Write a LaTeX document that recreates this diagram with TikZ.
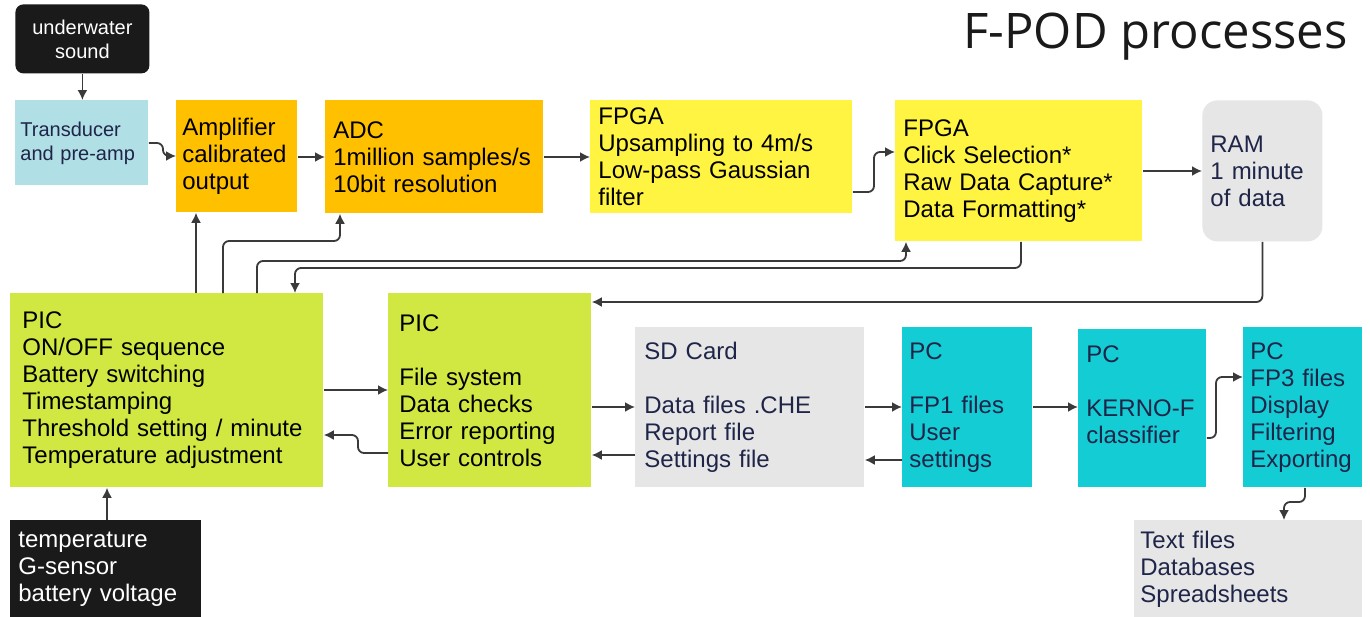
\documentclass[tikz,border=0pt]{standalone}
\usepackage{fontspec}
\setmainfont{Liberation Sans}
\newfontfamily\titlefont{Open Sans}
\usetikzlibrary{arrows.meta}

\definecolor{amber}{HTML}{FFC000}
\definecolor{lemon}{HTML}{FFF441}
\definecolor{lime}{HTML}{D0E841}
\definecolor{teal}{HTML}{14CCD4}
\definecolor{pale}{HTML}{B0DFE5}
\definecolor{paper}{HTML}{E6E6E6}
\definecolor{ink}{HTML}{1F2548}
\definecolor{coal}{HTML}{1A1A1A}
\definecolor{wire}{HTML}{3A3A3A}

\tikzset{
  stage/.style={rectangle, anchor=north west, align=left, inner xsep=4pt,
    font=\fontsize{12}{13.5}\selectfont},
  small/.style={font=\fontsize{10}{12}\selectfont},
  flow/.style={draw=wire, line width=0.9pt, rounded corners=3pt,
    -{Latex[length=5pt,width=5pt]}}
}

\begin{document}
\begin{tikzpicture}[x=0.5pt,y=-0.5pt]

  \path[fill=white,use as bounding box] (0,0) rectangle (1370,616);

  % Title
  \node[anchor=base east, inner sep=0pt, text=coal,
        font=\titlefont\fontsize{24.5}{29}\selectfont] (title) at (1348,48) {F-POD processes};

  % Top row
  \node[stage, small, align=center, fill=coal, text=white, rounded corners=4pt,
        text width=59pt, minimum height=34.5pt] (sound) at (15,4) {underwater\\sound};
  \node[stage, small, fill=pale, text=ink, inner xsep=2.5pt,
        text width=61.5pt, minimum height=42.5pt] (trans) at (15,100) {Transducer\\and pre-amp};
  \node[stage, fill=amber, inner xsep=3pt,
        text width=54.5pt, minimum height=56pt] (amp) at (176,100) {Amplifier\\calibrated\\output};
  \node[stage, fill=amber,
        text width=101pt, minimum height=56.5pt] (adc) at (325,100) {ADC\\1million samples/s\\10bit resolution};
  \node[stage, fill=lemon,
        text width=123pt, minimum height=56.5pt] (fpgaA) at (590,100) {FPGA\\Upsampling to 4m/s\\Low-pass Gaussian\\filter};
  \node[stage, fill=lemon,
        text width=115.5pt, minimum height=70.5pt] (fpgaB) at (895,100) {FPGA\\Click Selection*\\Raw Data Capture*\\Data Formatting*};
  \node[stage, fill=paper, text=ink, rounded corners=7.5pt,
        text width=52pt, minimum height=70.5pt] (ram) at (1202,100) {RAM\\1 minute\\of data};

  % Bottom row
  \node[stage, fill=lime, inner xsep=6pt,
        text width=144.5pt, minimum height=97pt] (picA) at (10,293) {PIC\\ON/OFF sequence\\Battery switching\\Timestamping\\Threshold setting / minute\\Temperature adjustment};
  \node[stage, fill=lime, inner xsep=5.5pt,
        text width=90.5pt, minimum height=97pt] (picB) at (388,293) {PIC\\[13.5pt]File system\\Data checks\\Error reporting\\User controls};
  \node[stage, fill=paper, text=ink, inner xsep=4.5pt,
        text width=105.5pt, minimum height=80pt] (sd) at (635,327) {SD Card\\[13.5pt]Data files .CHE\\Report file\\Settings file};
  \node[stage, fill=teal, text=ink, inner xsep=3.5pt,
        text width=58pt, minimum height=80pt] (pcA) at (902,327) {PC\\[13.5pt]FP1 files\\User\\settings};
  \node[stage, fill=teal, text=ink,
        text width=56pt, minimum height=79pt] (pcB) at (1078,329) {PC\\[13.5pt]KERNO-F\\classifier\\\mbox{}};
  \node[stage, fill=teal, text=ink, inner xsep=3.5pt,
        text width=52.5pt, minimum height=80pt] (pcC) at (1243,327) {PC\\FP3 files\\Display\\Filtering\\Exporting};
  \node[stage, fill=paper, text=ink, inner xsep=3pt,
        text width=108pt, minimum height=49pt] (export) at (1134,520) {Text files\\Databases\\Spreadsheets};
  \node[stage, fill=coal, text=white,
        text width=87.5pt, minimum height=49pt] (sensors) at (10,520) {temperature\\G-sensor\\battery voltage};

  %% Signal chain
  \draw[flow] (sound.south) -- (sound.south |- trans.north);
  \draw[flow] (trans.east |- 0,143) -- (163,143) |- (amp.west |- 0,156);
  \draw[flow] (amp.east |- 0,157) -- (adc.west |- 0,157);
  \draw[flow] (adc.east |- 0,157) -- (fpgaA.west |- 0,157);
  \draw[flow] (fpgaA.east |- 0,192) -- (874,192) |- (fpgaB.west |- 0,152);
  \draw[flow] (fpgaB.east |- 0,171) -- (ram.west |- 0,171);

  %% Back to the PICs
  \draw[flow] (ram.south) |- (picB.east |- 0,302);
  \draw[flow] (fpgaB.south -| 1021,0) |- (295,268) -- (picA.north -| 295,0);

  %% PIC control lines
  \draw[flow] (picA.north -| 257,0) |- (906,261) -- (fpgaB.south -| 906,0);
  \draw[flow] (picA.north -| 223,0) |- (340,241) -- (adc.south -| 340,0);
  \draw[flow] (picA.north -| 196,0) -- (amp.south -| 196,0);
  \draw[flow] (sensors.north -| 107,0) -- (picA.south -| 107,0);

  %% Storage and PC
  \draw[flow] (picA.east |- 0,390) -- (picB.west |- 0,390);
  \draw[flow] (picB.west |- 0,453) -- (358,453) |- (picA.east |- 0,435);
  \draw[flow] (picB.east |- 0,407) -- (sd.west |- 0,407);
  \draw[flow] (sd.west |- 0,455) -- (picB.east |- 0,455);
  \draw[flow] (sd.east |- 0,407) -- (pcA.west |- 0,407);
  \draw[flow] (pcA.west |- 0,460) -- (sd.east |- 0,460);
  \draw[flow] (pcA.east |- 0,407) -- (pcB.west |- 0,407);
  \draw[flow] (pcB.east |- 0,438) -- (1216,438) |- (pcC.west |- 0,377);
  \draw[flow] (pcC.south -| 1305,0) |- (1284,502) -- (export.north -| 1284,0);

\end{tikzpicture}
\end{document}
